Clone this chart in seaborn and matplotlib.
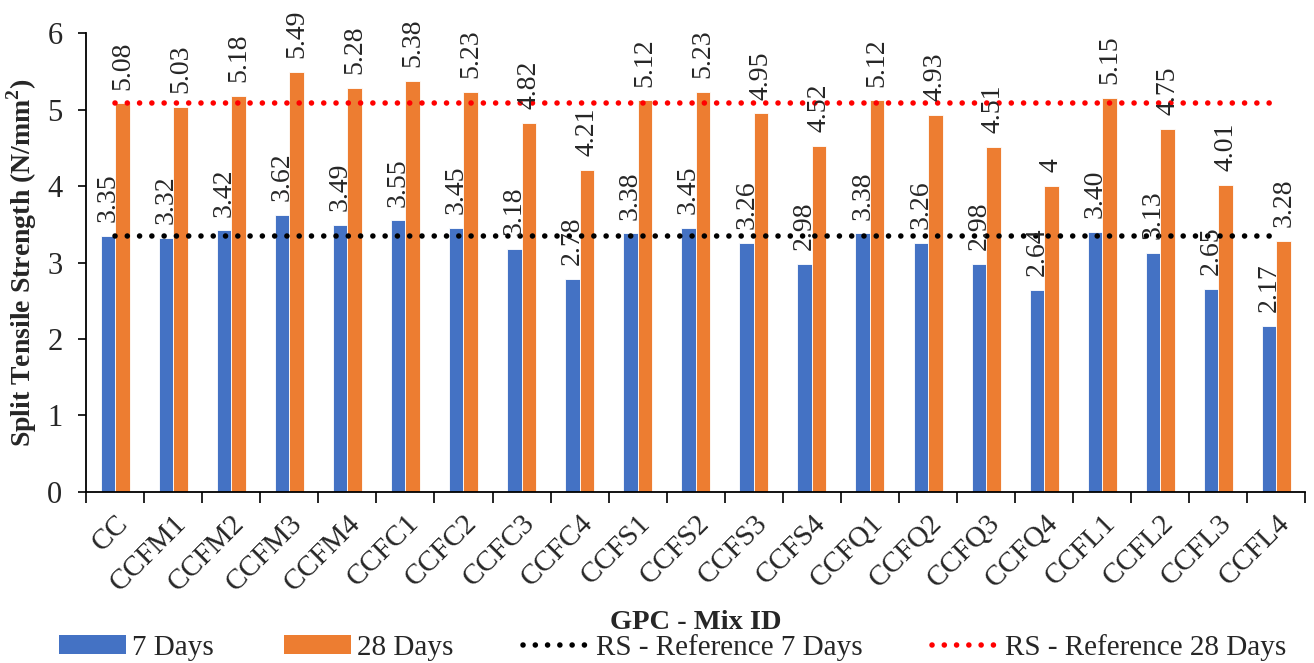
import matplotlib
matplotlib.use("Agg")
import matplotlib.pyplot as plt
from matplotlib.lines import Line2D
from matplotlib.patches import Patch
import numpy as np
import pandas as pd
import seaborn as sns

# Mix identifiers and split tensile strength results (N/mm²)
mixes = ["CC", "CCFM1", "CCFM2", "CCFM3", "CCFM4", "CCFC1", "CCFC2", "CCFC3",
         "CCFC4", "CCFS1", "CCFS2", "CCFS3", "CCFS4", "CCFQ1", "CCFQ2", "CCFQ3",
         "CCFQ4", "CCFL1", "CCFL2", "CCFL3", "CCFL4"]
days7 = [3.35, 3.32, 3.42, 3.62, 3.49, 3.55, 3.45, 3.18, 2.78, 3.38, 3.45,
         3.26, 2.98, 3.38, 3.26, 2.98, 2.64, 3.40, 3.13, 2.65, 2.17]
days28 = [5.08, 5.03, 5.18, 5.49, 5.28, 5.38, 5.23, 4.82, 4.21, 5.12, 5.23,
          4.95, 4.52, 5.12, 4.93, 4.51, 4.00, 5.15, 4.75, 4.01, 3.28]
ref7 = 3.35
ref28 = 5.08
series_names = ["7 Days", "28 Days"]
yticks = [0, 1, 2, 3, 4, 5, 6]

BLUE = "#4472C4"
ORANGE = "#ED7D31"

sns.set_theme(style="white")
plt.rcParams["font.family"] = ["Liberation Serif", "DejaVu Serif"]
plt.rcParams["mathtext.fontset"] = "custom"
plt.rcParams["mathtext.rm"] = "Liberation Serif"
plt.rcParams["mathtext.bf"] = "Liberation Serif:bold"

df = pd.DataFrame({
    "Mix": mixes * 2,
    "Age": [series_names[0]] * len(mixes) + [series_names[1]] * len(mixes),
    "Strength": days7 + days28,
})

fig = plt.figure(figsize=(13.14, 6.63), dpi=100)
ax = fig.add_axes([0.0655, 0.258, 0.928, 0.692])

sns.barplot(data=df, x="Mix", y="Strength", hue="Age",
            palette=[BLUE, ORANGE], width=0.5, saturation=1,
            edgecolor="white", linewidth=0.6, legend=False, ax=ax)

# value labels above each bar
fmt7 = [f"{v:.2f}" for v in days7]
fmt28 = [f"{v:g}" for v in days28]
for cont, labels in zip(ax.containers, [fmt7, fmt28]):
    ax.bar_label(cont, labels=labels, rotation=90, padding=10, fontsize=20)

# reference lines across the category range
pos = np.arange(len(mixes))
dot = dict(linewidth=4.0, dash_capstyle="round", linestyle=(0, (0.01, 2.2)))
ax.plot(pos, [ref7] * len(pos), color="black", **dot)
ax.plot(pos, [ref28] * len(pos), color="#FF0000", **dot)

ax.set_ylim(0, 6)
ax.set_xlim(-0.5, len(mixes) - 0.5)
ax.set_yticks(yticks)
ax.set_yticklabels([str(t) for t in yticks], fontsize=22)

# category boundaries get tick marks, centres carry labels
ax.set_xticks(np.arange(-0.5, len(mixes), 1.0))
ax.set_xticklabels([])
ax.set_xticks(pos, minor=True)
ax.set_xticklabels(mixes, minor=True, rotation=45, ha="right", va="top",
                   rotation_mode="anchor", fontsize=21)
ax.tick_params(axis="x", which="major", direction="out", length=8,
               width=1.2, color="black", bottom=True)
ax.tick_params(axis="x", which="minor", length=0, pad=13)
ax.tick_params(axis="y", direction="out", length=6, width=1.2,
               color="black", left=True, pad=11)

for s in ["top", "right"]:
    ax.spines[s].set_visible(False)
for s in ["left", "bottom"]:
    ax.spines[s].set_color("black")
    ax.spines[s].set_linewidth(1.3)

ax.set_ylabel("Split Tensile Strength (N/mm$^\\mathbf{2}$)", fontsize=20,
              fontweight="bold")
ax.yaxis.set_label_coords(-0.039, 0.5)
ax.set_xlabel("GPC - Mix ID", fontsize=20.5, fontweight="bold")
ax.xaxis.set_label_coords(0.5, -0.285)
ax.xaxis.label.set_va("center")

handles = [
    Patch(facecolor=BLUE, edgecolor="none"),
    Patch(facecolor=ORANGE, edgecolor="none"),
    Line2D([], [], color="black", **dot),
    Line2D([], [], color="#FF0000", **dot),
]
labels = series_names + ["RS - Reference 7 Days", "RS - Reference 28 Days"]
fig.legend(handles, labels, loc="center", ncol=4, frameon=False,
           bbox_to_anchor=(0.512, 0.024), fontsize=21,
           handlelength=2.3, handleheight=0.65, handletextpad=0.2,
           columnspacing=2.4, borderpad=0.0, borderaxespad=0.0)

fig.savefig("out.png", dpi=100)
